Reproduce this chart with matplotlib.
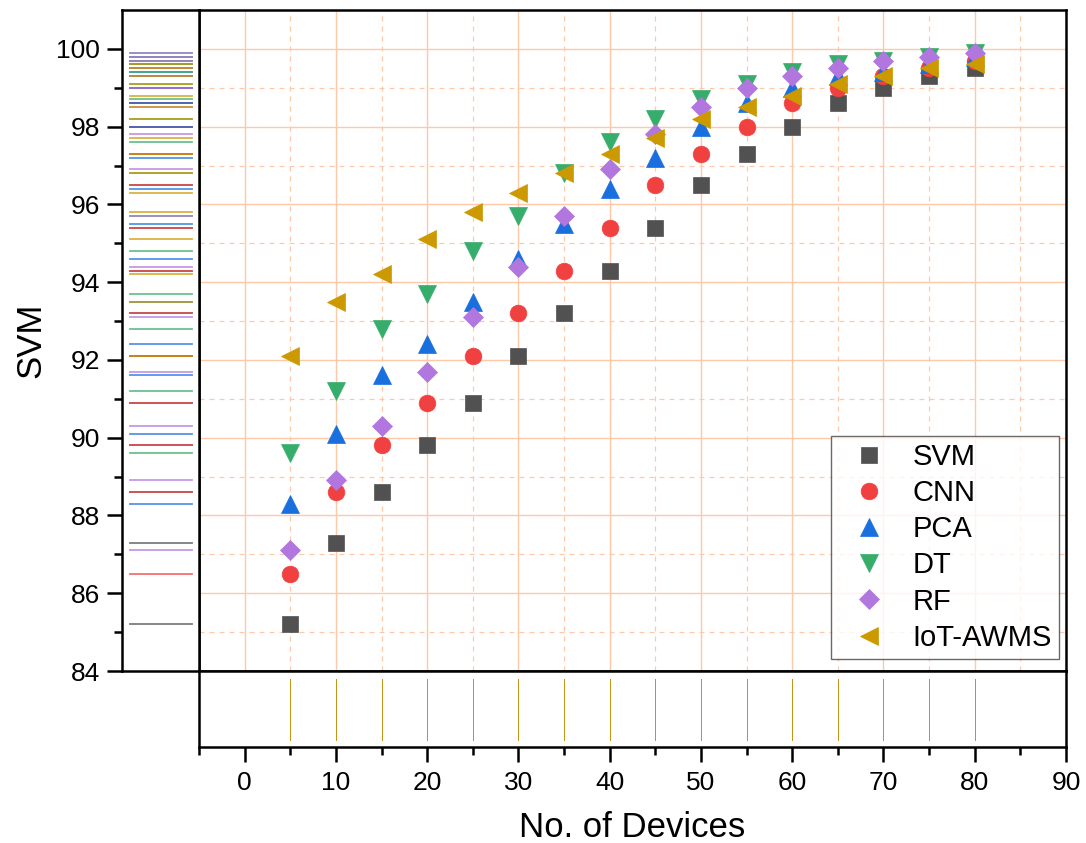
import matplotlib
matplotlib.use("Agg")
import matplotlib.pyplot as plt
from matplotlib.ticker import MultipleLocator, FixedLocator, NullLocator

plt.rcParams['font.family'] = ['Liberation Sans', 'DejaVu Sans']

# Number of devices
devices = [5, 10, 15, 20, 25, 30, 35, 40, 45, 50, 55, 60, 65, 70, 75, 80]

svm = [85.2, 87.3, 88.6, 89.8, 90.9, 92.1, 93.2, 94.3, 95.4, 96.5, 97.3, 98.0, 98.6, 99.0, 99.3, 99.5]
cnn = [86.5, 88.6, 89.8, 90.9, 92.1, 93.2, 94.3, 95.4, 96.5, 97.3, 98.0, 98.6, 99.0, 99.3, 99.5, 99.7]
pca = [88.3, 90.1, 91.6, 92.4, 93.5, 94.6, 95.5, 96.4, 97.2, 98.0, 98.6, 99.0, 99.3, 99.4, 99.6, 99.8]
dt = [89.6, 91.2, 92.8, 93.7, 94.8, 95.7, 96.8, 97.6, 98.2, 98.7, 99.1, 99.4, 99.6, 99.7, 99.8, 99.9]
rf = [87.1, 88.9, 90.3, 91.7, 93.1, 94.4, 95.7, 96.9, 97.8, 98.5, 99.0, 99.3, 99.5, 99.7, 99.8, 99.9]
iot = [92.1, 93.5, 94.2, 95.1, 95.8, 96.3, 96.8, 97.3, 97.7, 98.2, 98.5, 98.8, 99.1, 99.3, 99.5, 99.6]

labels = ["SVM", "CNN", "PCA", "DT", "RF", "IoT-AWMS"]
series = [svm, cnn, pca, dt, rf, iot]
colors = ["#515151", "#F14040", "#1A6FDF", "#37AD6B", "#B177DE", "#CC9900"]
markers = ["s", "o", "^", "v", "D", "<"]
msizes = [11, 12, 13, 13, 10, 13]

W, H = 1086, 843
fig = plt.figure(figsize=(W / 100, H / 100), dpi=100)

def frac(x0, y0, x1, y1):
    return [x0 / W, 1 - y1 / H, (x1 - x0) / W, (y1 - y0) / H]

ax = fig.add_axes(frac(199, 10, 1066, 671))
axl = fig.add_axes(frac(122, 10, 199, 671), sharey=ax)
axb = fig.add_axes(frac(199, 671, 1066, 747), sharex=ax)

xlim = (-5, 90)
ylim = (84, 101)
ax.set_xlim(*xlim)
ax.set_ylim(*ylim)

grid_color = "#FFC8A8"
ax.xaxis.set_major_locator(MultipleLocator(10))
ax.xaxis.set_minor_locator(MultipleLocator(5))
ax.yaxis.set_major_locator(MultipleLocator(2))
ax.yaxis.set_minor_locator(FixedLocator(list(range(85, 100, 2))))
ax.grid(which="major", color=grid_color, lw=1.0, ls="-")
ax.grid(which="minor", color=grid_color, lw=0.9, ls=(0, (4, 4)))
ax.set_axisbelow(True)
ax.tick_params(which="both", length=0, labelleft=False, labelbottom=False)

for ys, lab, c, m, ms in zip(series, labels, colors, markers, msizes):
    ax.plot(devices, ys, ls="none", marker=m, ms=ms, color=c, mec=c, mew=0.5,
            label=lab, zorder=3)

leg = ax.legend(loc="lower right", fontsize=21,
                frameon=True, fancybox=False, edgecolor="#444444",
                borderpad=0.25, labelspacing=0.28, handletextpad=0.45,
                handlelength=2.1, borderaxespad=0.0)
# lower-right corner of the legend box, in figure pixels
leg.set_bbox_to_anchor((1059 / W, 1 - 659 / H), transform=fig.transFigure)
leg.get_frame().set_linewidth(1.0)

# Marginal rugs
for ys, c in zip(series, colors):
    for v in ys:
        axl.axhline(v, xmin=0.1, xmax=0.91, color=c, lw=1.3, alpha=0.75)
    for d in devices:
        axb.axvline(d, ymin=0.09, ymax=0.9, color=c, lw=0.5, alpha=0.9,
                    antialiased=False)

axl.set_xlim(0, 1)
axl.xaxis.set_major_locator(NullLocator())
axl.tick_params(axis="y", which="major", direction="out", length=11, width=1.8,
                labelsize=19, pad=5, right=False)
axl.tick_params(axis="y", which="minor", direction="out", length=6, width=1.8,
                right=False)
axl.set_ylabel("SVM", fontsize=25, labelpad=6)

axb.set_ylim(0, 1)
axb.yaxis.set_major_locator(NullLocator())
axb.tick_params(axis="x", which="major", direction="out", length=11, width=1.8,
                labelsize=19, pad=6, top=False)
axb.tick_params(axis="x", which="minor", direction="out", length=6, width=1.8,
                top=False)
axb.set_xlabel("No. of Devices", fontsize=25, labelpad=12)

for a in (ax, axl, axb):
    for s in a.spines.values():
        s.set_linewidth(1.8)
        s.set_color("black")

fig.savefig("out.png", dpi=100)
